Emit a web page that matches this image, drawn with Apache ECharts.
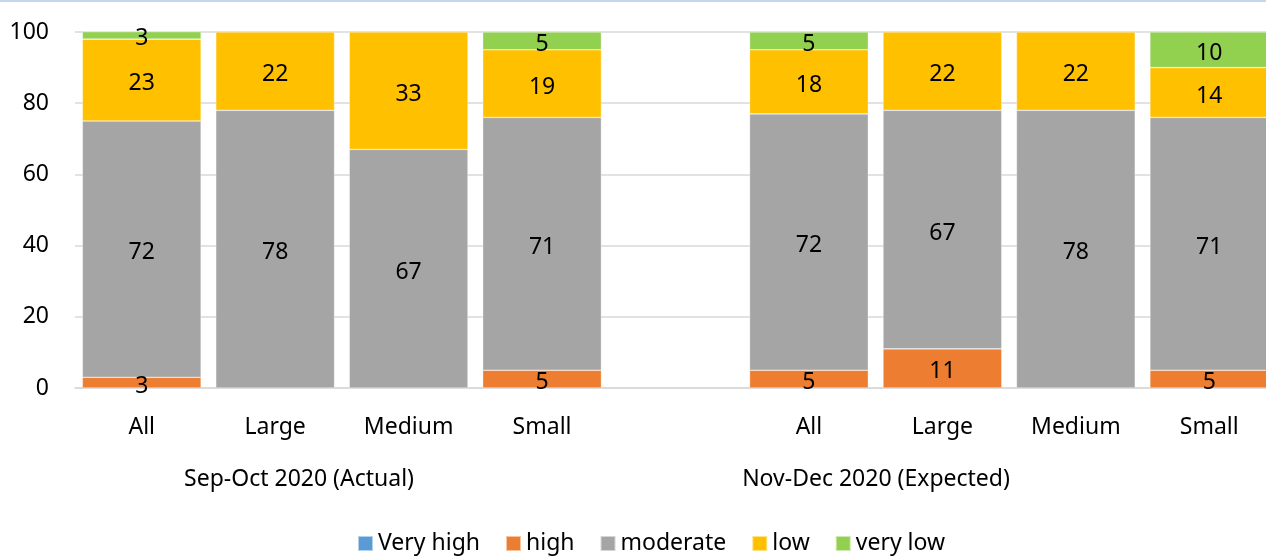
<!DOCTYPE html>
<html>
<head>
<meta charset="utf-8">
<script src="https://cdn.jsdelivr.net/npm/echarts@6/dist/echarts.min.js"></script>
<style>
  html, body { margin: 0; padding: 0; background: #fff; overflow: hidden; }
  /* the plot runs past the right edge of the page, so the canvas is a bit wider than the window */
  #chart { width: 1280px; height: 557px; }
</style>
</head>
<body>
<div id="chart"></div>
<script>
// Size categories, with an empty slot separating the two periods
const categories = ['All', 'Large', 'Medium', 'Small', '', 'All', 'Large', 'Medium', 'Small'];
const periodLabels = ['Sep-Oct 2020 (Actual)', 'Nov-Dec 2020 (Expected)'];

// Share of firms per level (%), null where the level is absent
const veryHigh = [null, null, null, null, null, null, null, null, null];
const high     = [3, null, null, 5, null, 5, 11, null, 5];
const moderate = [72, 78, 67, 71, null, 72, 67, 78, 71];
const low      = [23, 22, 33, 19, null, 18, 22, 22, 14];
const veryLow  = [3, null, null, 5, null, 5, null, null, 10];

const yTicks = { min: 0, max: 100, interval: 20 };

const FONT = '"Noto Sans", sans-serif';
const FS = 23;

function stackSeries(name, data, color) {
  return {
    name: name,
    type: 'bar',
    stack: 'total',
    data: data,
    barCategoryGap: '11%',
    itemStyle: { color: color, borderColor: 'rgba(255,255,255,0.55)', borderWidth: 0.6 },
    label: {
      show: true,
      position: 'inside',
      offset: [0, 3.5],
      color: '#000',
      fontSize: FS,
      fontFamily: FONT,
      formatter: p => (p.value == null ? '' : String(p.value))
    }
  };
}

const chart = echarts.init(document.getElementById('chart'), null, { renderer: 'canvas' });

chart.setOption({
  animation: false,
  textStyle: { fontFamily: FONT },
  grid: { left: 75, width: 1201, top: 32, bottom: 169, containLabel: false },
  legend: {
    bottom: -3,
    left: 352,
    itemWidth: 15,
    itemHeight: 15,
    itemGap: 25,
    icon: 'rect',
    textStyle: { fontSize: FS, color: '#000', fontFamily: FONT },
    data: ['Very high', 'high', 'moderate', 'low', 'very low']
  },
  xAxis: {
    type: 'category',
    data: categories,
    axisTick: { show: false },
    axisLine: { lineStyle: { color: '#d9d9d9', width: 1.5 } },
    axisLabel: { color: '#000', fontSize: FS, fontFamily: FONT, margin: 28, interval: 0 }
  },
  yAxis: {
    type: 'value',
    min: yTicks.min,
    max: yTicks.max,
    interval: yTicks.interval,
    axisLine: { show: false },
    axisTick: { show: false },
    splitLine: { lineStyle: { color: '#d9d9d9', width: 1.5 } },
    axisLabel: { color: '#000', fontSize: FS, fontFamily: FONT, margin: 26 }
  },
  graphic: [
    { type: 'rect', shape: { x: 0, y: 0, width: 1280, height: 2 }, style: { fill: '#c5d9ee' }, silent: true },
    { type: 'text', x: 299, y: 479, style: { text: periodLabels[0], fill: '#000', font: FS + 'px ' + FONT, textAlign: 'center', textVerticalAlign: 'middle' } },
    { type: 'text', x: 876, y: 479, style: { text: periodLabels[1], fill: '#000', font: FS + 'px ' + FONT, textAlign: 'center', textVerticalAlign: 'middle' } }
  ],
  series: [
    stackSeries('Very high', veryHigh, '#5b9bd5'),
    stackSeries('high', high, '#ed7d31'),
    stackSeries('moderate', moderate, '#a5a5a5'),
    stackSeries('low', low, '#ffc000'),
    stackSeries('very low', veryLow, '#92d050')
  ]
});
</script>
</body>
</html>
